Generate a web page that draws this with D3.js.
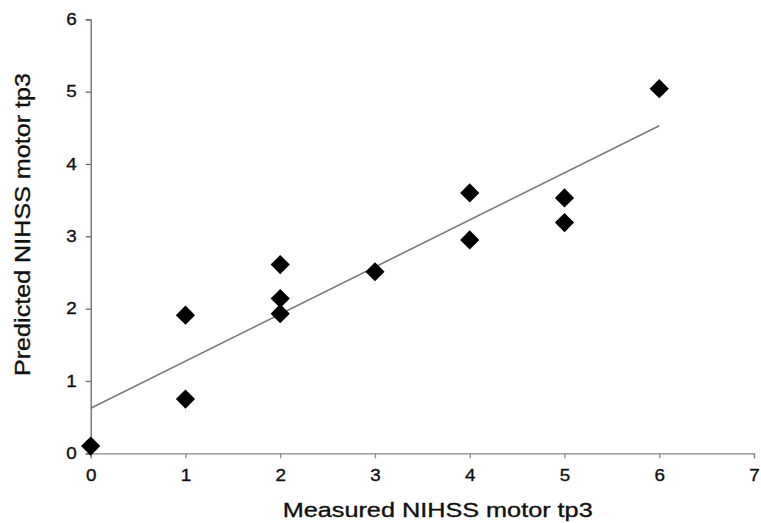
<!DOCTYPE html>
<html>
<head>
<meta charset="utf-8">
<script src="https://cdn.jsdelivr.net/npm/d3@7"></script>
<style>
  body { margin: 0; background: #fff; }
  svg { display: block; font-family: "Liberation Sans", Arial, sans-serif; }
</style>
</head>
<body>
<svg id="chart"></svg>
<script>
const measured  = [0, 1, 1, 2, 2, 2, 3, 4, 4, 5, 5, 6];
const predicted = [0.10, 1.91, 0.75, 2.61, 2.14, 1.93, 2.51, 3.60, 2.95, 3.53, 3.19, 5.04];
const xTicks = [0, 1, 2, 3, 4, 5, 6, 7];
const yTicks = [0, 1, 2, 3, 4, 5, 6];
const axesLabels = { x: 'Measured NIHSS motor tp3', y: 'Predicted NIHSS motor tp3' };

const width = 761;
const height = 523;
const MARGINS = { top: 19.3, right: 7, bottom: 69.7, left: 90.7 };
const innerW = width - MARGINS.left - MARGINS.right;
const innerH = height - MARGINS.top - MARGINS.bottom;

const svg = d3.select('#chart')
  .attr('width', width)
  .attr('height', height);

const g = svg.append('g')
  .attr('transform', `translate(${MARGINS.left},${MARGINS.top})`);

const x = d3.scaleLinear().domain([0, 7]).range([0, innerW]);
const y = d3.scaleLinear().domain([0, 6]).range([innerH, 0]);

const xAxis = d3.axisBottom(x).tickValues(xTicks).tickSize(5).tickPadding(11).tickFormat(d3.format('d'));
const yAxis = d3.axisLeft(y).tickValues(yTicks).tickSize(5).tickPadding(9).tickFormat(d3.format('d'));

const gx = g.append('g')
  .attr('transform', `translate(0,${innerH})`)
  .call(xAxis);
const gy = g.append('g').call(yAxis);

// estilo dos eixos (texto um pouco mais largo e pesado como no original)
[gx, gy].forEach(a => {
  a.select('.domain').attr('stroke', '#8a8a8a').attr('stroke-width', 1.3);
  a.selectAll('.tick line').attr('stroke', '#8a8a8a').attr('stroke-width', 1.3);
  a.selectAll('.tick text')
    .attr('fill', '#111')
    .attr('stroke', '#111')
    .attr('stroke-width', 0.35)
    .attr('textLength', 10.5)
    .attr('lengthAdjust', 'spacingAndGlyphs')
    .style('font-size', '16.5px');
});
gy.select('.domain').attr('stroke', '#666');
gy.selectAll('.tick line').attr('stroke', '#666');

// reta de regressao (minimos quadrados)
const n = measured.length;
const mx = d3.mean(measured), my = d3.mean(predicted);
let sxy = 0, sxx = 0;
for (let i = 0; i < n; i++) {
  sxy += (measured[i] - mx) * (predicted[i] - my);
  sxx += (measured[i] - mx) ** 2;
}
const slope = sxy / sxx;
const intercept = my - slope * mx;
const xs = d3.extent(measured);

g.append('line')
  .attr('x1', x(xs[0])).attr('y1', y(intercept + slope * xs[0]))
  .attr('x2', x(xs[1])).attr('y2', y(intercept + slope * xs[1]))
  .attr('stroke', '#7a7a7a')
  .attr('stroke-width', 1.6);

// pontos em losango
const diamond = d3.symbol().type(d3.symbolSquare).size(185);
g.append('g').selectAll('path')
  .data(measured.map((m, i) => ({ x: m, y: predicted[i] })))
  .enter()
  .append('path')
  .attr('d', diamond)
  .attr('transform', d => `translate(${x(d.x)},${y(d.y)}) rotate(45)`)
  .attr('fill', '#000');

// legendas dos eixos
svg.append('text')
  .text(axesLabels.x)
  .attr('x', 437.7)
  .attr('y', 516.7)
  .attr('text-anchor', 'middle')
  .attr('textLength', 310)
  .attr('lengthAdjust', 'spacingAndGlyphs')
  .attr('fill', '#111')
  .attr('stroke', '#111')
  .attr('stroke-width', 0.35)
  .style('font-size', '20.5px');

svg.append('text')
  .text(axesLabels.y)
  .attr('transform', 'translate(29.5,224.5) rotate(-90)')
  .attr('text-anchor', 'middle')
  .attr('textLength', 303)
  .attr('lengthAdjust', 'spacingAndGlyphs')
  .attr('fill', '#111')
  .attr('stroke', '#111')
  .attr('stroke-width', 0.35)
  .style('font-size', '22px');
</script>
</body>
</html>
